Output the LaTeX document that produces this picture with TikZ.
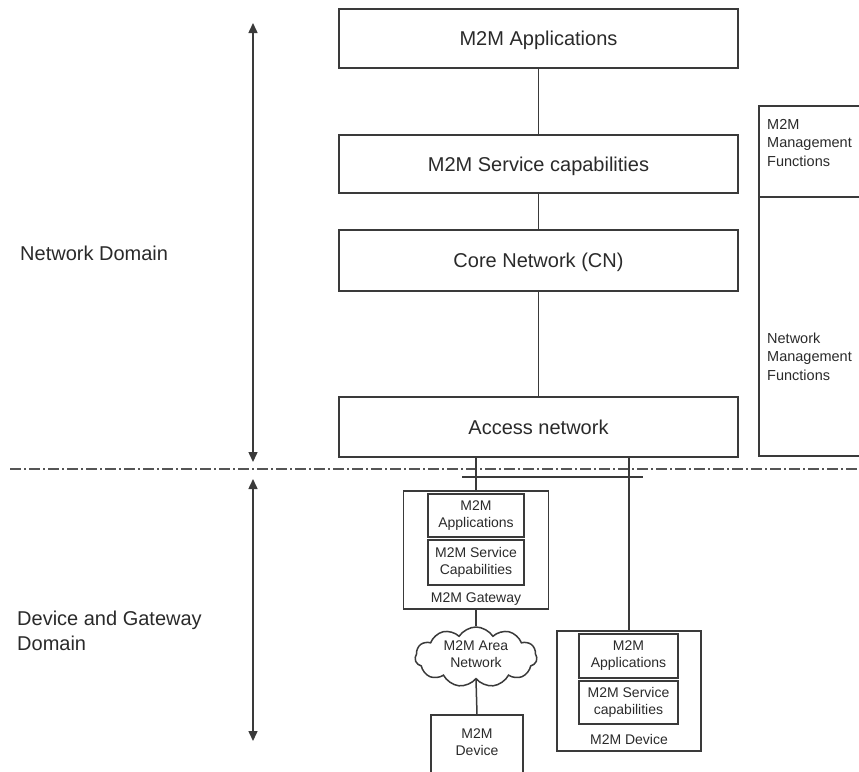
\documentclass[tikz,border=0pt]{standalone}
\usepackage{fontspec}
\setmainfont{Liberation Sans}
\usetikzlibrary{shapes.symbols,arrows.meta}
\definecolor{ln}{HTML}{3A3A3A}
\definecolor{txt}{HTML}{2A2A2A}
\definecolor{sepc}{HTML}{555555}
\begin{document}
\begin{tikzpicture}[x=1pt,y=-1pt,
  box/.style={draw=ln, line width=1.5pt, rectangle, inner sep=0pt, text=txt},
  big/.style={font=\fontsize{20}{24}\selectfont, text height=14.3pt, text depth=0pt},
  small/.style={font=\fontsize{14}{17}\selectfont, align=center, text=txt, inner sep=0pt},
  side/.style={font=\fontsize{14.5}{18.5}\selectfont, align=left, text=txt, inner sep=0pt, anchor=north west},
  domtext/.style={font=\fontsize{20}{25}\selectfont, align=left, text=txt, inner sep=0pt},
  wire/.style={draw=ln, line width=1.5pt},
  tipT/.tip={Triangle[width=9pt,length=10pt]},
  domarrow/.style={draw=ln, line width=1.5pt, tipT-tipT},
  separator/.style={draw=sepc, line width=1.5pt, dash pattern=on 11pt off 3pt on 2pt off 3pt}
]
\path[use as bounding box] (0,0) rectangle (859,771);
\clip (0,0) rectangle (859,771);

% ---- network domain stack ----
\node[box, big, minimum width=399pt, minimum height=59pt] (apps) at (538.5,38.5) {M2M Applications};
\node[box, big, minimum width=399pt, minimum height=58pt] (svc)  at (538.5,164)  {M2M Service capabilities};
\node[box, big, minimum width=399pt, minimum height=61pt] (core) at (538.5,260.5) {Core Network (CN)};
\node[box, big, minimum width=399pt, minimum height=60pt] (acc)  at (538.5,427)  {Access network};
\draw[wire] (apps) -- (svc);
\draw[wire] (svc) -- (core);
\draw[wire] (core) -- (acc);

% ---- management functions column (runs off the right edge) ----
\coordinate (mgA) at (870,106);
\coordinate (mgB) at (759,106);
\coordinate (mgC) at (759,456);
\coordinate (mgD) at (870,456);
\coordinate (mgE) at (759,197);
\coordinate (mgF) at (870,197);
\draw[wire] (mgA) -- (mgB) -- (mgC) -- (mgD);
\draw[wire] (mgE) -- (mgF);
\node[side] (m2mmf) at (767,119) {M2M\\Management\\Functions};
\node[side] (netmf) at (767,332.5) {Network\\Management\\Functions};

% ---- domain labels and arrows ----
\node[domtext, anchor=west] (nd) at (20,253) {Network Domain};
\node[domtext, anchor=north west] (dgd) at (17,611) {Device and Gateway\\Domain};
\coordinate (ndTop) at (253,23);
\coordinate (ndBot) at (253,462);
\coordinate (dgTop) at (253,479);
\coordinate (dgBot) at (253,741);
\draw[domarrow] (ndTop) -- (ndBot);
\draw[domarrow] (dgTop) -- (dgBot);

% ---- domain separator ----
\coordinate (sepL) at (10,469);
\coordinate (sepR) at (859,469);
\draw[separator] (sepL) -- (sepR);

% ---- M2M gateway ----
\node[box, minimum width=145pt, minimum height=118pt] (gw) at (476,550) {};
\node[box, small, minimum width=96pt, minimum height=43pt] (gwapp) at (476,515.5) {M2M\\Applications};
\node[box, small, minimum width=96pt, minimum height=45pt] (gwsc) at (476,562.5) {M2M Service\\Capabilities};
\node[small] (gwlabel) at (476,599) {M2M Gateway};

% ---- area network and device behind it ----
\node[cloud, draw=ln, line width=1.5pt, cloud puffs=11, cloud puff arc=115, aspect=2,
      minimum width=122pt, minimum height=60pt, inner sep=0pt] (area) at (476,657) {};
\node[small] (areatext) at (476,654) {M2M Area\\Network};
\node[box, minimum width=92pt, minimum height=70pt] (md) at (477,750) {};
\node[small] (mdtext) at (477,742.5) {M2M\\Device};

% ---- directly attached M2M device ----
\node[box, minimum width=144pt, minimum height=120pt] (dev) at (629,691) {};
\node[box, small, minimum width=99pt, minimum height=44pt] (devapp) at (628.5,656) {M2M\\Applications};
\node[box, small, minimum width=99pt, minimum height=43pt] (devsc) at (628.5,702.5) {M2M Service\\capabilities};
\node[small] (devlabel) at (629,739) {M2M Device};

% ---- links ----
\draw[wire] (gw.north) -- (gw.north |- acc.south);
\draw[wire] (dev.north) -- (dev.north |- acc.south);
\coordinate (busL) at (462,477);
\coordinate (busR) at (643,477);
\draw[wire] (busL) -- (busR);
\draw[wire] (gw.south) -- (area.north);
\draw[wire] (area.south) -- (md.north);
\end{tikzpicture}
\end{document}
